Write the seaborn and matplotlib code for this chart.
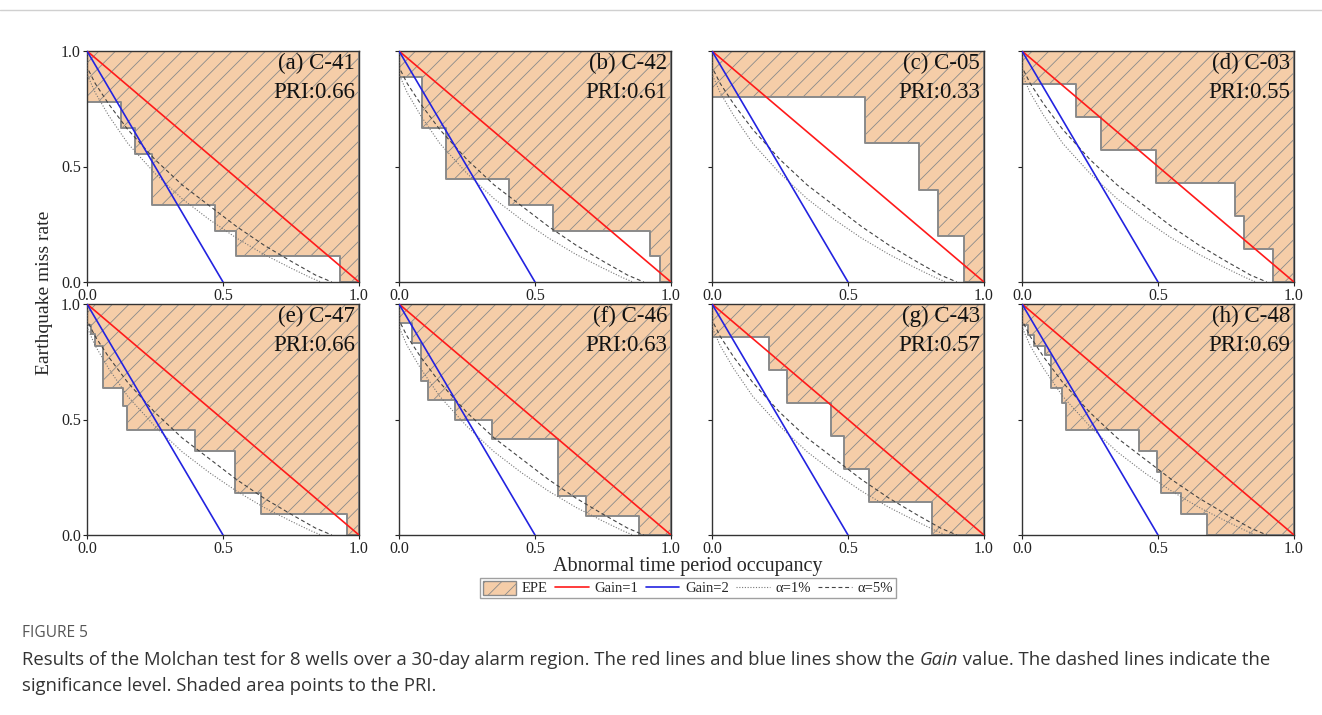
import numpy as np
import pandas as pd
import seaborn as sns
import matplotlib.pyplot as plt
from matplotlib.patches import Patch
from matplotlib.lines import Line2D

# panel names and PRI values
PANEL_NAMES = ['(a) C-41', '(b) C-42', '(c) C-05', '(d) C-03',
               '(e) C-47', '(f) C-46', '(g) C-43', '(h) C-48']
PRI_VALUES = [0.66, 0.61, 0.33, 0.55, 0.66, 0.63, 0.57, 0.69]

# Molchan step curves: tau = where each level starts, nu = miss rate level
tau_a = [0, 0.126, 0.175, 0.24, 0.47, 0.547, 0.929]
nu_a = [0.778, 0.667, 0.556, 0.333, 0.222, 0.111, 0]
tau_b = [0, 0.085, 0.174, 0.405, 0.567, 0.923, 0.96]
nu_b = [0.889, 0.667, 0.444, 0.333, 0.222, 0.111, 0]
tau_c = [0, 0.564, 0.761, 0.832, 0.926]
nu_c = [0.8, 0.6, 0.4, 0.2, 0]
tau_d = [0, 0.2, 0.292, 0.491, 0.784, 0.816, 0.923]
nu_d = [0.857, 0.714, 0.571, 0.429, 0.286, 0.143, 0]
tau_e = [0, 0.016, 0.03, 0.06, 0.133, 0.148, 0.396, 0.545, 0.641, 0.956]
nu_e = [0.91, 0.87, 0.818, 0.636, 0.56, 0.455, 0.364, 0.182, 0.091, 0]
tau_f = [0, 0.049, 0.082, 0.107, 0.205, 0.342, 0.583, 0.687, 0.883]
nu_f = [0.917, 0.833, 0.667, 0.583, 0.5, 0.417, 0.167, 0.083, 0]
tau_g = [0, 0.211, 0.274, 0.439, 0.485, 0.579, 0.81]
nu_g = [0.857, 0.714, 0.571, 0.429, 0.286, 0.143, 0]
tau_h = [0, 0.022, 0.045, 0.085, 0.108, 0.148, 0.163, 0.43, 0.497, 0.512, 0.586, 0.681]
nu_h = [0.91, 0.864, 0.818, 0.78, 0.636, 0.57, 0.455, 0.364, 0.273, 0.182, 0.091, 0]

STEP_TAU = [tau_a, tau_b, tau_c, tau_d, tau_e, tau_f, tau_g, tau_h]
STEP_NU = [nu_a, nu_b, nu_c, nu_d, nu_e, nu_f, nu_g, nu_h]

# reference lines
gain1_tau = [0.0, 1.0]
gain1_nu = [1.0, 0.0]
gain2_tau = [0.0, 0.5]
gain2_nu = [1.0, 0.0]

# significance curves
alpha1_tau = [0, 0.0, 0.03, 0.08, 0.15, 0.25, 0.35, 0.45, 0.55, 0.65, 0.75, 0.82, 0.86]
alpha1_nu = [1.0, 0.9, 0.82, 0.72, 0.6, 0.47, 0.36, 0.27, 0.19, 0.12, 0.06, 0.02, 0.0]
alpha5_tau = [0, 0.0, 0.03, 0.08, 0.15, 0.25, 0.35, 0.45, 0.55, 0.65, 0.75, 0.84, 0.9]
alpha5_nu = [1.0, 0.93, 0.86, 0.77, 0.66, 0.53, 0.42, 0.33, 0.24, 0.16, 0.09, 0.03, 0.0]

FILL = '#F5CDA8'
EDGE = '#8a8a8a'

sns.set_theme(style='ticks')
plt.rcParams['font.family'] = ['Liberation Serif', 'DejaVu Serif']
plt.rcParams['hatch.linewidth'] = 0.6
plt.rcParams['hatch.color'] = '#6e6e6e'

fig = plt.figure(figsize=(13.22, 7.15), dpi=100)
W, H = 1322.0, 715.0
col_x = [87, 399, 712, 1022]
row_bottom = [282, 535]
aw, ah = 272, 231

for i in range(8):
    r, c = divmod(i, 4)
    ax = fig.add_axes([col_x[c] / W, 1 - row_bottom[r] / H, aw / W, ah / H])
    tau = list(STEP_TAU[i]) + [1.0]
    nu = list(STEP_NU[i]) + [0.0]
    ax.fill_between(tau, nu, 1.0, step='post', facecolor=FILL,
                    edgecolor=EDGE, hatch='//', linewidth=1.4, zorder=1)
    sns.lineplot(x=alpha1_tau, y=alpha1_nu, estimator=None, sort=False,
                 color='#777777', linestyle=(0, (1, 1.5)), linewidth=0.8, ax=ax, zorder=3)
    sns.lineplot(x=alpha5_tau, y=alpha5_nu, estimator=None, sort=False,
                 color='#444444', linestyle=(0, (3.5, 2.5)), linewidth=0.8, ax=ax, zorder=3)
    sns.lineplot(x=gain1_tau, y=gain1_nu, estimator=None, sort=False,
                 color='#ff1a1a', linewidth=1.2, ax=ax, zorder=4)
    sns.lineplot(x=gain2_tau, y=gain2_nu, estimator=None, sort=False,
                 color='#2323e0', linewidth=1.2, ax=ax, zorder=4)
    ax.set_xlim(0, 1)
    ax.set_ylim(0, 1)
    ax.set_xticks([0, 0.5, 1.0])
    ax.set_yticks([0, 0.5, 1.0])
    ax.set_xticklabels(['0.0', '0.5', '1.0'])
    if c == 0:
        ax.set_yticklabels(['0.0', '0.5', '1.0'])
    else:
        ax.set_yticklabels([])
    ax.tick_params(direction='out', length=3, width=0.8, labelsize=11.5, pad=1.5,
                   colors='#222222')
    for s in ax.spines.values():
        s.set_color('#333333')
        s.set_linewidth(1.0)
    ax.set_xlabel('')
    ax.set_ylabel('')
    ax.text(0.985, 0.945, PANEL_NAMES[i], transform=ax.transAxes, ha='right',
            va='center', fontsize=16.5, color='#111111', zorder=5)
    ax.text(0.985, 0.822, f'PRI:{PRI_VALUES[i]:.2f}', transform=ax.transAxes,
            ha='right', va='center', fontsize=16.5, color='#111111', zorder=5)

fig.text(45 / W, 1 - 293 / H, 'Earthquake miss rate', rotation=90, ha='center',
         va='center', fontsize=14)
fig.text(688 / W, 1 - 567 / H, 'Abnormal time period occupancy', ha='center',
         va='center', fontsize=14.5)

handles = [Patch(facecolor=FILL, edgecolor=EDGE, hatch='//', linewidth=1.0),
           Line2D([], [], color='#ff1a1a', linewidth=1.2),
           Line2D([], [], color='#2323e0', linewidth=1.2),
           Line2D([], [], color='#777777', linestyle=(0, (1, 1.5)), linewidth=0.8),
           Line2D([], [], color='#444444', linestyle=(0, (3.5, 2.5)), linewidth=0.8)]
labels = ['EPE', 'Gain=1', 'Gain=2', 'α=1%', 'α=5%']
leg = fig.legend(handles, labels, ncol=5, loc='center',
                 bbox_to_anchor=(688 / W, 1 - 588 / H), frameon=True,
                 fancybox=False, fontsize=10.5, handlelength=2.3,
                 handleheight=1.1, columnspacing=0.5, handletextpad=0.4,
                 borderpad=0.2, borderaxespad=0)
leg.get_frame().set_edgecolor('#888888')
leg.get_frame().set_linewidth(1.0)

# thin rule at the top of the figure
fig.add_artist(Line2D([0, 1], [1 - 10 / H, 1 - 10 / H], transform=fig.transFigure,
                      color='#d0d0d0', linewidth=1.0))

# caption
cap = dict(family=['Open Sans', 'DejaVu Sans'], color='#333333', fontsize=13.3,
           va='center', ha='left')
fig.text(22 / W, 1 - 633 / H, 'FIGURE 5', family=['Open Sans', 'DejaVu Sans'],
         color='#555555', fontsize=11.2, va='center', ha='left')
renderer = fig.canvas.get_renderer()
t1 = fig.text(22 / W, 1 - 660 / H,
              'Results of the Molchan test for 8 wells over a 30-day alarm region. '
              'The red lines and blue lines show the ', **cap)
x1 = t1.get_window_extent(renderer).x1
t2 = fig.text(x1 / W, 1 - 660 / H, 'Gain', style='italic', **cap)
x2 = t2.get_window_extent(renderer).x1
fig.text(x2 / W, 1 - 660 / H,
         ' value. The dashed lines indicate the', **cap)
fig.text(22 / W, 1 - 686 / H,
         'significance level. Shaded area points to the PRI.', **cap)

fig.savefig('out.png', dpi=100)
